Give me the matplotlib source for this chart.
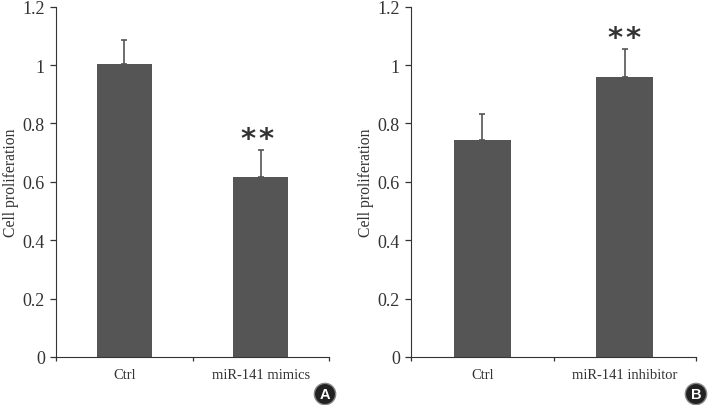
import matplotlib
matplotlib.use('Agg')
import matplotlib.pyplot as plt

plt.rcParams['font.family'] = ['Liberation Serif', 'DejaVu Serif']

# values
labels_a = ['Ctrl', 'miR-141 mimics']
values_a = [1.004, 0.615]
errors_a = [0.082, 0.095]

labels_b = ['Ctrl', 'miR-141 inhibitor']
values_b = [0.742, 0.959]
errors_b = [0.091, 0.096]

yticks = [0, 0.2, 0.4, 0.6, 0.8, 1, 1.2]
yticklabels = ['0', '0.2', '0.4', '0.6', '0.8', '1', '1.2']
bar_color = '#555555'
line_color = '#333333'
stars = '*\u200a*'

fig = plt.figure(figsize=(7.09, 4.06), dpi=100)
ax1 = fig.add_axes([56 / 709, 1 - 358 / 406, 273 / 709, 350.3 / 406])
ax2 = fig.add_axes([411 / 709, 1 - 358 / 406, 285 / 709, 350.3 / 406])

for ax, labels, values, errors, letter, cx in [(ax1, labels_a, values_a, errors_a, 'A', 325),
                                               (ax2, labels_b, values_b, errors_b, 'B', 696)]:
    ax.bar([0, 1], values, width=0.4, color=bar_color)
    ax.errorbar([0, 1], values, yerr=[[0, 0], errors], fmt='none', ecolor=bar_color,
                elinewidth=1.2, capsize=2, capthick=1.2)
    ax.set_xlim(-0.5, 1.5)
    ax.set_ylim(0, 1.2)
    ax.set_yticks(yticks)
    ax.set_yticklabels(yticklabels, fontsize=13, color='#333333')
    ax.set_xticks([-0.5, 0.5, 1.5], minor=False)
    ax.set_xticklabels([])
    ax.set_xticks([0, 1], minor=True)
    ax.set_xticklabels(labels, minor=True, fontsize=10.5, color='#333333')
    ax.tick_params(axis='x', which='minor', length=0, pad=8)
    ax.tick_params(axis='y', which='major', length=4, direction='out', width=0.9,
                   color=line_color, pad=4)
    ax.tick_params(axis='x', which='major', length=3, direction='out', width=0.9, color=line_color)
    ax.set_ylabel('Cell proliferation', fontsize=11.3, labelpad=2.5, color='#333333')
    ax.spines['top'].set_visible(False)
    ax.spines['right'].set_visible(False)
    ax.spines['left'].set_color(line_color)
    ax.spines['bottom'].set_color(line_color)
    fig.text(cx / 709, 1 - 395 / 406, letter, color='white', fontsize=10.5,
             family='Liberation Sans', weight='bold', ha='center', va='center',
             bbox=dict(boxstyle='circle,pad=0.25', fc='#222222', ec='#888888'))

ax1.text(0.98, 0.70, stars, fontsize=21, ha='center', va='bottom', color='#333333',
         family='DejaVu Sans', weight='bold')
ax2.text(1, 1.045, stars, fontsize=21, ha='center', va='bottom', color='#333333',
         family='DejaVu Sans', weight='bold')

fig.savefig('out.png', dpi=100)
